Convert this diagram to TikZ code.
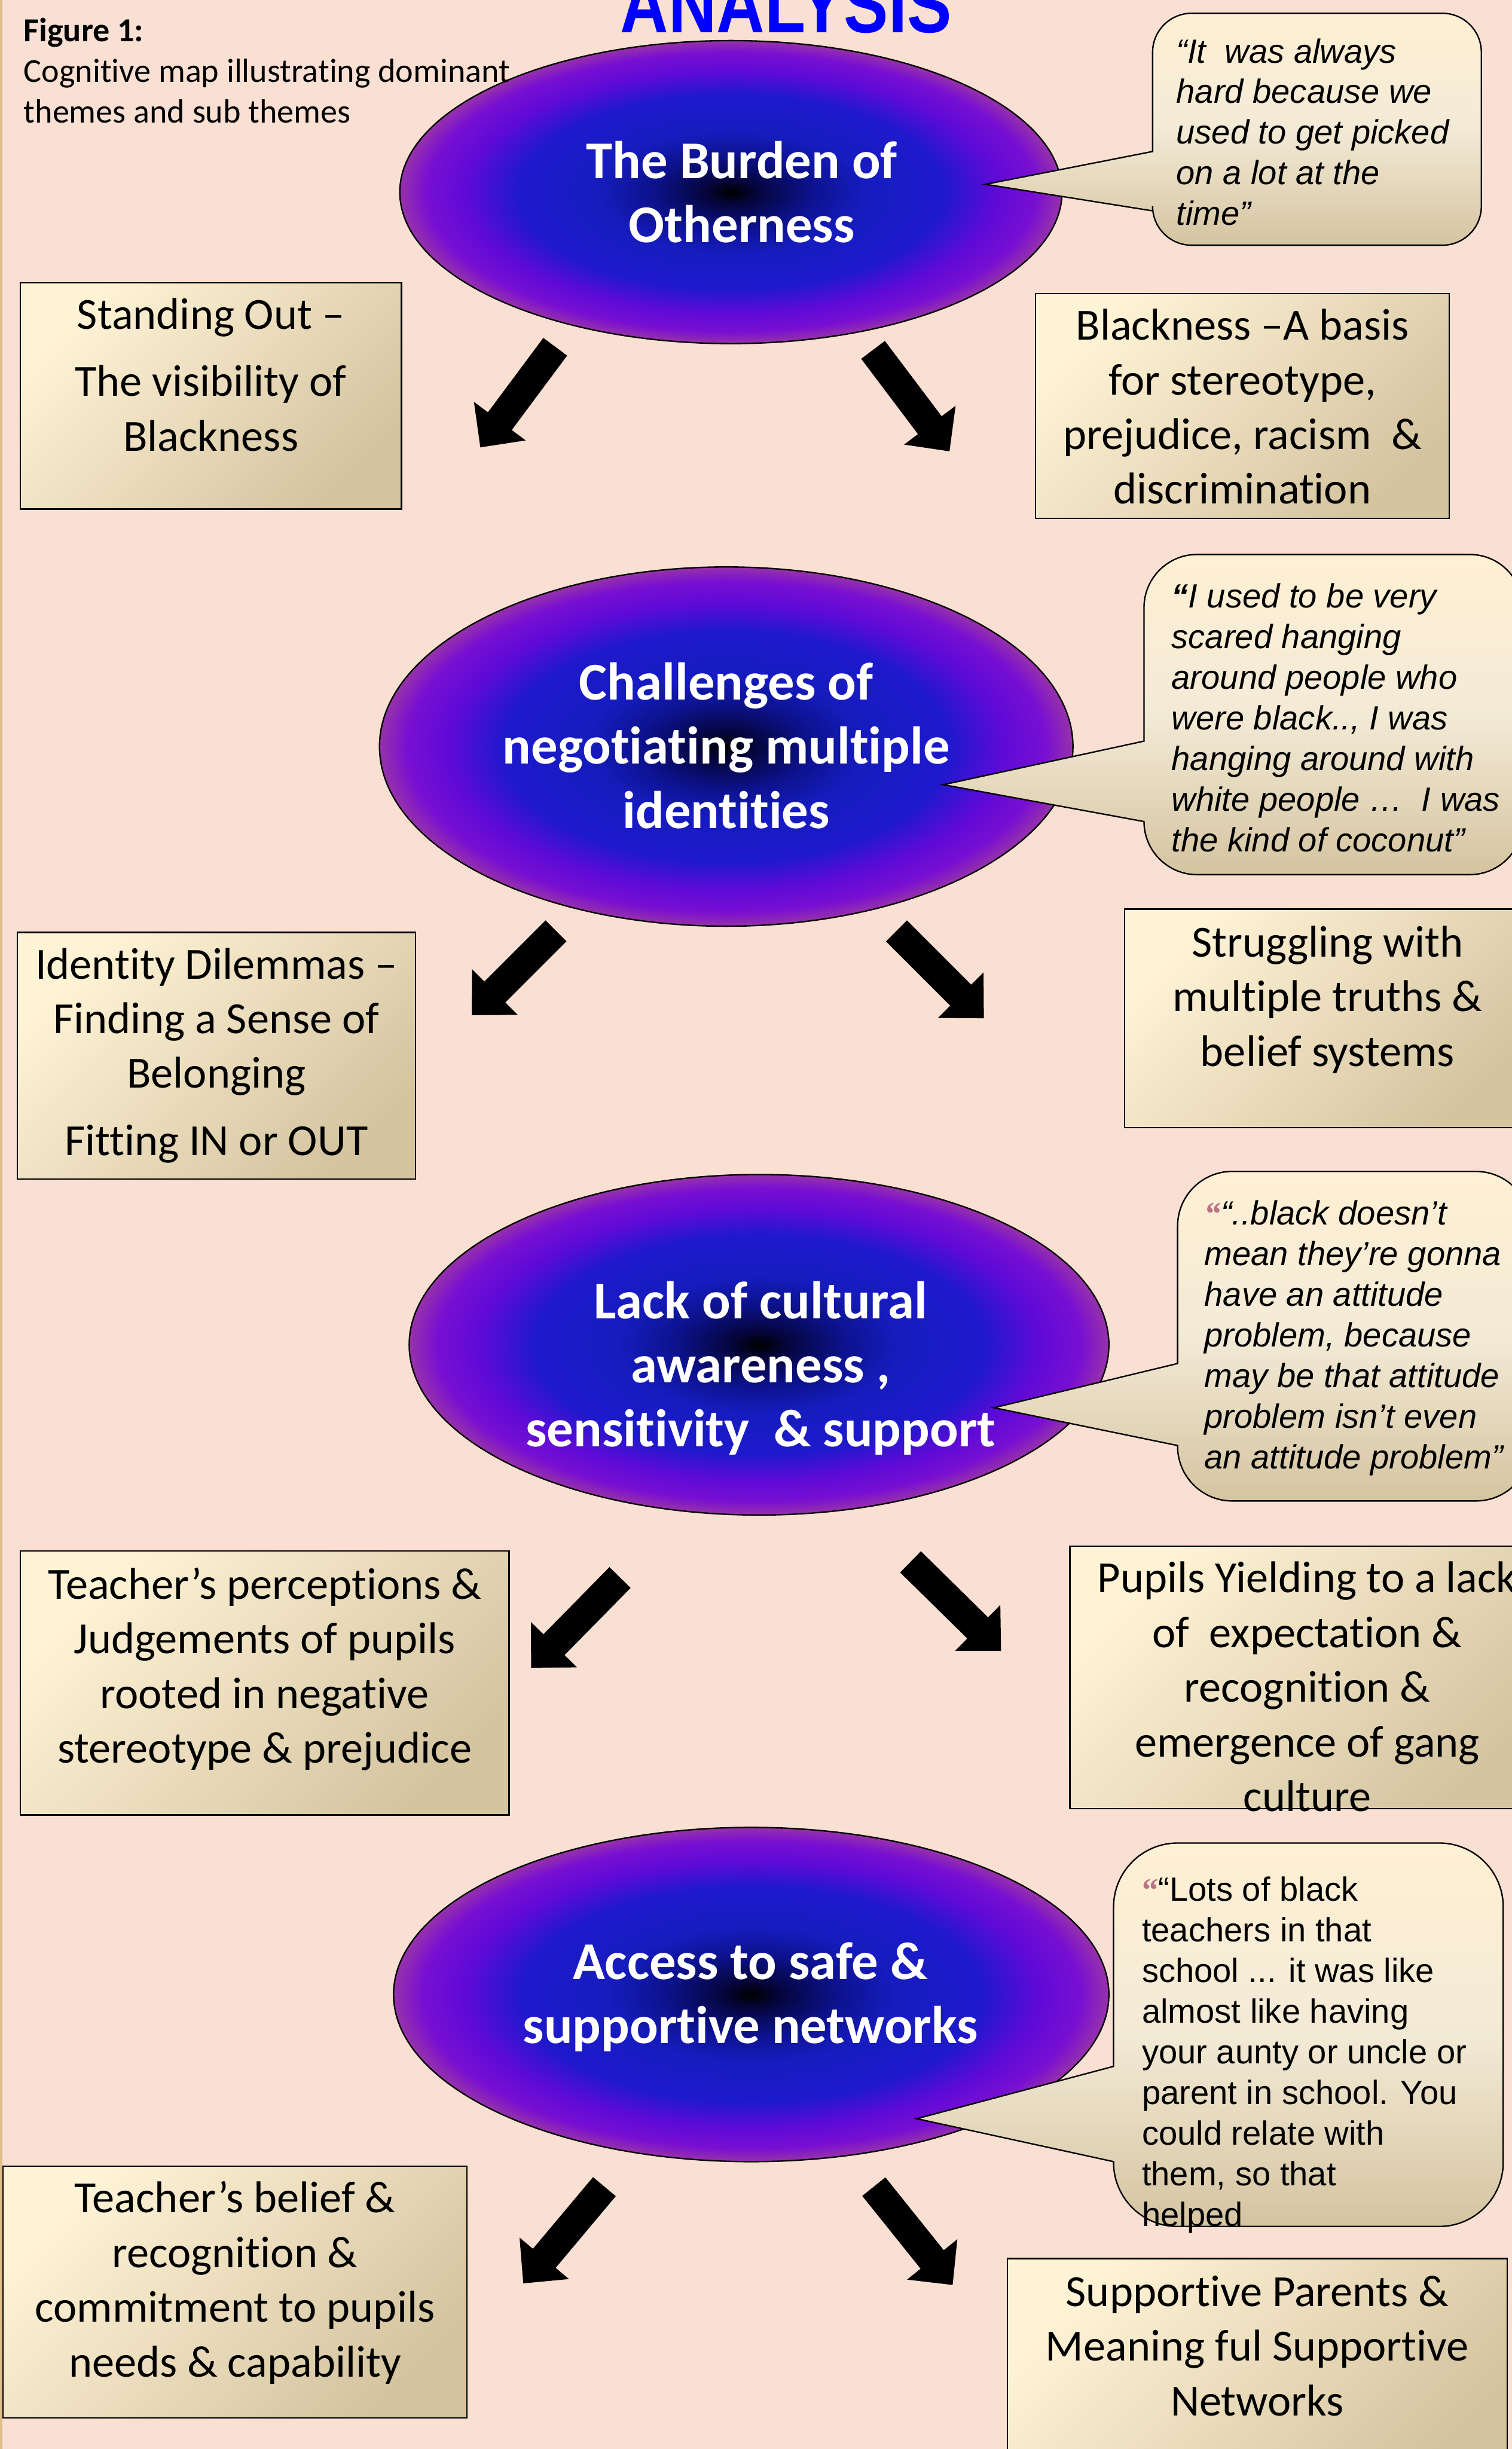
\documentclass[tikz,border=0pt]{standalone}
\usepackage{fontspec}
\setmainfont{Carlito}[Ligatures={NoCommon}]
\newfontfamily\arialf{Liberation Sans}[Ligatures={NoCommon}]
\newfontfamily\serifq{Liberation Serif}
\usetikzlibrary{arrows.meta,shapes.geometric}
\definecolor{bgpeach}{RGB}{250,223,211}
\definecolor{boxlight}{RGB}{255,243,214}
\definecolor{boxdark}{RGB}{212,196,160}
\definecolor{bubtop}{RGB}{255,240,212}
\definecolor{bubmid}{RGB}{243,234,214}
\definecolor{bubbot}{RGB}{212,196,160}
\definecolor{quotemauve}{RGB}{185,115,130}
\definecolor{anblue}{RGB}{0,0,255}
\definecolor{tanedge}{RGB}{222,190,140}
\definecolor{orbA}{RGB}{5,5,60}
\definecolor{orbB}{RGB}{12,18,140}
\definecolor{orbC}{RGB}{22,28,190}
\definecolor{orbD}{RGB}{30,25,205}
\definecolor{orbE}{RGB}{95,10,215}
\definecolor{orbF}{RGB}{120,15,210}
\definecolor{orbG}{RGB}{150,50,170}
\pgfdeclareradialshading{orb}{\pgfpointorigin}{color(0bp)=(black); color(2bp)=(orbA); color(6bp)=(orbB); color(10bp)=(orbC); color(16bp)=(orbD); color(20bp)=(orbE); color(23bp)=(orbF); color(25bp)=(orbG); color(50bp)=(orbG)}
\newcommand\bubblepath[9]{%
  \pgfmathsetmacro\bk{0.4477*#5}%
  \shadedraw[bubble] (#1,#6) -- (#1,#2+#5) .. controls (#1,#2+\bk) and (#1+\bk,#2) .. (#1+#5,#2) -- (#3-#5,#2) .. controls (#3-\bk,#2) and (#3,#2+\bk) .. (#3,#2+#5) -- (#3,#4-#5) .. controls (#3,#4-\bk) and (#3-\bk,#4) .. (#3-#5,#4) -- (#1+#5,#4) .. controls (#1+\bk,#4) and (#1,#4-\bk) .. (#1,#4-#5) -- (#1,#7) -- (#8,#9) -- cycle;}
\newcommand\mauveq{{\color{quotemauve}\serifq\bfseries\fontsize{21}{21}\selectfont“}}
\begin{document}
\begin{tikzpicture}[x=1pt,y=-1pt,
  orbnode/.style={ellipse, draw=black, line width=0.9pt, inner sep=0pt, shade, shading=orb},
  subbox/.style={rectangle, draw=black, line width=0.9pt, inner sep=0pt, top color=boxlight, bottom color=boxdark, shading angle=45},
  bubble/.style={draw=black, line width=0.9pt, top color=bubtop, bottom color=bubbot, middle color=bubmid},
  boxtxt/.style={inner sep=0pt, align=center, anchor=north, font=\fontsize{28.5}{35}\selectfont},
  orbtxt/.style={inner sep=0pt, align=center, anchor=north, text=white, font=\bfseries\fontsize{34}{41}\selectfont},
  bubtxt/.style={inner sep=0pt, align=left, anchor=north west, font=\arialf\itshape\fontsize{21.5}{26}\selectfont},
  blockarrow/.style={line width=19pt, -{Triangle[length=21pt,width=40pt]}}
]
\useasboundingbox (0,0) rectangle (968,1568);
\fill[bgpeach] (0,0) rectangle (968,1568);
\draw[tanedge, line width=1.5pt] (0.75,0) -- (0.75,1568);

% title
\node[inner sep=0pt, anchor=base west, text=anblue, font=\arialf\bfseries] (ana) at (397,21) {\resizebox{212pt}{36pt}{ANALYSIS}};

% ellipses
\node[orbnode, minimum width=424pt, minimum height=194pt] (E1) at (468,123) {};
\node[orbnode, minimum width=444pt, minimum height=230pt] (E2) at (465,478) {};
\node[orbnode, minimum width=448pt, minimum height=218pt] (E3) at (486,861) {};
\node[orbnode, minimum width=458pt, minimum height=214pt] (E4) at (481,1277) {};

% callouts
\bubblepath{738}{8.5}{948.5}{157}{25}{97}{135}{631}{118}
\bubblepath{732.5}{355}{975}{560}{34}{474.5}{526}{604}{502.4}
\bubblepath{754}{750}{980}{961}{35}{873}{925.5}{636.4}{901.3}
\bubblepath{713}{1180}{962.5}{1425.5}{41}{1323}{1384}{587}{1356.5}

% ellipse texts
\node[orbtxt] (T1) at (475,80) {\rule{0pt}{1em}The Burden of\\Otherness};
\node[orbtxt] (T2) at (465,414) {\rule{0pt}{1em}Challenges of\\negotiating multiple\\identities};
\node[orbtxt] (T3) at (487,810) {\rule{0pt}{1em}Lack of cultural\\awareness ,\\sensitivity~ \& support};
\node[orbtxt] (T4) at (480.5,1233) {\rule{0pt}{1em}Access to safe \&\\supportive networks};

% sub-theme boxes
\node[subbox, minimum width=244pt, minimum height=145pt] (B1) at (135,253.5) {};
\node[subbox, minimum width=265pt, minimum height=144pt] (B2) at (795.5,260) {};
\node[subbox, minimum width=255pt, minimum height=158pt] (B3) at (138.5,676) {};
\node[subbox, minimum width=260pt, minimum height=140pt] (B4) at (850,652) {};
\node[subbox, minimum width=313pt, minimum height=169pt] (B5) at (169.5,1077.5) {};
\node[subbox, minimum width=304pt, minimum height=168pt] (B6) at (837,1074) {};
\node[subbox, minimum width=297pt, minimum height=161pt] (B7) at (150.5,1467.5) {};
\node[subbox, minimum width=320pt, minimum height=144pt] (B8) at (805,1518) {};

\node[boxtxt] (S1) at (135,182) {\rule{0pt}{1em}Standing Out –\\[8pt]The visibility of\\Blackness};
\node[boxtxt] (S2) at (795.5,189) {\rule{0pt}{1em}Blackness –A basis\\for stereotype,\\prejudice, racism~ \&\\discrimination};
\node[boxtxt] (S3) at (138.5,598) {\rule{0pt}{1em}Identity Dilemmas –\\Finding a Sense of\\Belonging\\[8pt]Fitting IN or OUT};
\node[boxtxt] (S4) at (850,584) {\rule{0pt}{1em}Struggling with\\multiple truths \&\\belief systems};
\node[boxtxt] (S5) at (169.5,995) {\rule{0pt}{1em}Teacher’s perceptions \&\\Judgements of pupils\\rooted in negative\\stereotype \& prejudice};
\node[boxtxt] (S6) at (837,991) {\rule{0pt}{1em}Pupils Yielding to a lack\\of~ expectation \&\\recognition \&\\emergence of gang\\culture};
\node[boxtxt] (S7) at (150.5,1388) {\rule{0pt}{1em}Teacher’s belief \&\\recognition \&\\commitment to pupils\\needs \& capability};
\node[boxtxt] (S8) at (805,1448) {\rule{0pt}{1em}Supportive Parents \&\\Meaning ful Supportive\\Networks};

% callout texts
\node[bubtxt] (Q1) at (753,18.5) {\rule{0pt}{1em}“It~ was always\\hard because we\\used to get picked\\on a lot at the\\time”};
\node[bubtxt] (Q2) at (750,367.5) {\rule{0pt}{1em}\textbf{“}I used to be very\\scared hanging\\around people who\\were black.., I was\\hanging around with\\white people …~ I was\\the kind of coconut”};
\node[bubtxt] (Q3) at (771,762.5) {\rule{0pt}{1em}\mauveq“..black doesn’t\\mean they’re gonna\\have an attitude\\problem, because\\may be that attitude\\problem isn’t even\\an attitude problem”};
\node[bubtxt, font=\arialf\fontsize{21.5}{26}\selectfont] (Q4) at (731,1195.5) {\rule{0pt}{1em}\mauveq“Lots of black\\teachers in that\\school ... it was like\\almost like having\\your aunty or uncle or\\parent in school. You\\could relate with\\them, so that\\helped};

% arrows
\coordinate (a1s) at (355.5,222); \coordinate (a1e) at (307.5,286.5);
\coordinate (a2s) at (559,224);   \coordinate (a2e) at (608,289);
\coordinate (a3s) at (356,596);   \coordinate (a3e) at (302,650);
\coordinate (a4s) at (574,596);   \coordinate (a4e) at (630,652);
\coordinate (a5s) at (397,1010);  \coordinate (a5e) at (340,1068);
\coordinate (a6s) at (583,1000);  \coordinate (a6e) at (641,1057);
\coordinate (a7s) at (387,1400);  \coordinate (a7e) at (335,1462);
\coordinate (a8s) at (559.5,1400);\coordinate (a8e) at (610,1463);
\foreach \i in {1,...,8} {\draw[blockarrow] (a\i s) -- (a\i e);}

% caption
\node[inner sep=0pt, align=left, anchor=north west, font=\fontsize{21.5}{26}\selectfont] (cap) at (15,5) {\rule{0pt}{1em}\textbf{Figure 1:}\\Cognitive map illustrating dominant\\themes and sub themes};
\end{tikzpicture}
\end{document}
